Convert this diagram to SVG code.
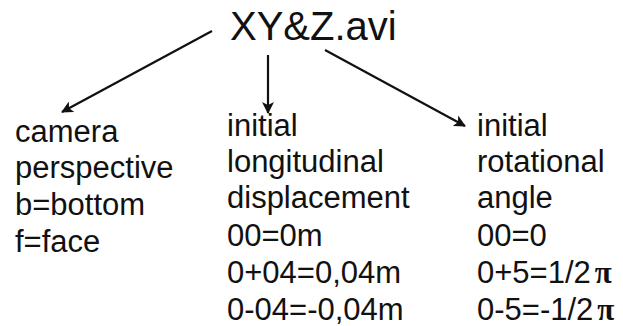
<svg xmlns="http://www.w3.org/2000/svg" width="623" height="326" viewBox="0 0 623 326">
<style>
text{font-family:"Liberation Sans",Arial,sans-serif;fill:#111;}
.t{font-size:31px;}
.title{font-size:40px;}
.pi{font-family:"Liberation Serif","Times New Roman",serif;font-weight:bold;}
.c line{stroke:#111;stroke-width:2.2;}
</style>
<defs>
<marker id="ah" viewBox="0 0 12 12" refX="11" refY="6" markerWidth="12" markerHeight="12" markerUnits="userSpaceOnUse" orient="auto">
<path d="M0,0 L12,6 L0,12 L3,6 Z" fill="#111"/>
</marker>
</defs>
<rect width="623" height="326" fill="#fff"/>
<g id="title"><text class="title" x="230" y="40">XY&amp;Z.avi</text></g>
<g class="c" id="connectors">
<line x1="212" y1="31" x2="62" y2="112" marker-end="url(#ah)"/>
<line x1="268" y1="55" x2="268" y2="113" marker-end="url(#ah)"/>
<line x1="325" y1="50" x2="465" y2="126" marker-end="url(#ah)"/>
</g>
<g id="camera" class="t">
<text class="t" x="15" y="142">camera</text>
<text class="t" x="15" y="178">perspective</text>
<text class="t" x="15" y="215">b=bottom</text>
<text class="t" x="15" y="252">f=face</text>
</g>
<g id="displacement">
<text class="t" x="227" y="136">initial</text>
<text class="t" x="227" y="172">longitudinal</text>
<text class="t" x="227" y="208">displacement</text>
<text class="t" x="227" y="246">00=0m</text>
<text class="t" x="227" y="283">0+04=0,04m</text>
<text class="t" x="227" y="320">0-04=-0,04m</text>
</g>
<g id="angle">
<text class="t" x="477" y="136">initial</text>
<text class="t" x="477" y="172">rotational</text>
<text class="t" x="477" y="208">angle</text>
<text class="t" x="477" y="246">00=0</text>
<text class="t" x="477" y="283">0+5=1/2<tspan class="pi" dx="4">π</tspan></text>
<text class="t" x="477" y="320">0-5=-1/2<tspan class="pi" dx="4">π</tspan></text>
</g>
</svg>
